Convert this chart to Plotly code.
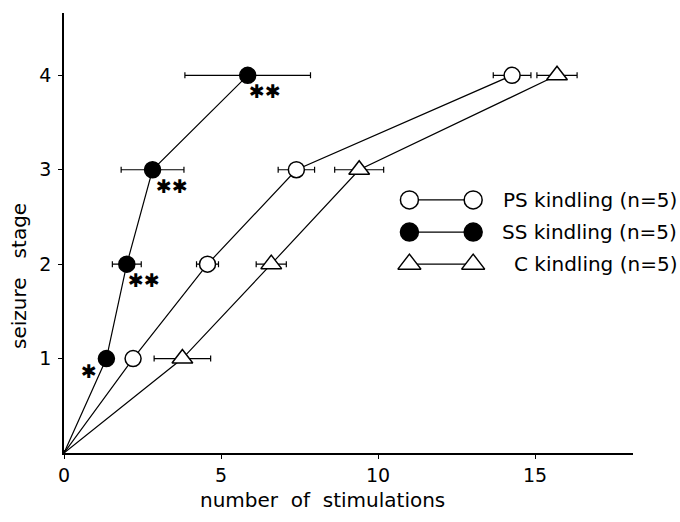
import plotly.graph_objects as go

# ---- data ----
stages = [1, 2, 3, 4]
ps_mean = [2.2, 4.57, 7.4, 14.27]
ps_err = [0.2, 0.35, 0.58, 0.6]
ss_mean = [1.35, 2.0, 2.82, 5.85]
ss_err = [0.2, 0.46, 1.0, 2.0]
c_mean = [3.77, 6.6, 9.4, 15.7]
c_err = [0.9, 0.48, 0.78, 0.64]
ss_signif = ["✱", "✱✱", "✱✱", "✱✱"]
legend_labels = ["PS kindling (n=5)", "SS kindling (n=5)", "C kindling (n=5)"]
x_ticks = [0, 5, 10, 15]
y_ticks = [1, 2, 3, 4]

FONT = "DejaVu Sans"
fig = go.Figure()

series = [
    (ps_mean, ps_err, "circle", "white", 16),
    (ss_mean, ss_err, "circle", "black", 16),
    (c_mean, c_err, "triangle-up", "white", 18),
]

for mean, err, sym, fill, size in series:
    fig.add_trace(go.Scatter(
        x=[0] + mean, y=[0] + stages,
        mode="lines+markers",
        line=dict(color="black", width=1.2),
        marker=dict(symbol=sym, color=fill, size=[0] + [size] * len(mean), opacity=1,
                    line=dict(color="black", width=1.5)),
        error_x=dict(type="data", array=[0] + err, color="black",
                     thickness=1.2, width=3),
        showlegend=False, cliponaxis=False,
    ))

# significance marks
offsets = [(-17, -12), (17, -16), (19, -16), (17, -16)]
for s, xv, yv, (dx, dy) in zip(ss_signif, ss_mean, stages, offsets):
    fig.add_annotation(x=xv, y=yv, text=s, showarrow=False, xshift=dx, yshift=dy,
                       font=dict(family=FONT, size=19, color="black"))

# manual legend (marker - line - marker)
leg_x = [11.0, 13.03]
leg_y = [2.68, 2.34, 2.0]
for (mean, err, sym, fill, size), ly, lab in zip(series, leg_y, legend_labels):
    fig.add_trace(go.Scatter(
        x=leg_x, y=[ly, ly], mode="lines+markers",
        line=dict(color="black", width=1.2),
        marker=dict(symbol=sym, color=fill, size=size + 2, opacity=1,
                    line=dict(color="black", width=1.5)),
        showlegend=False, cliponaxis=False,
    ))
    fig.add_annotation(x=(679 - 64) / 569, y=ly, xref="paper", yref="y", text=lab,
                       showarrow=False, xanchor="right",
                       font=dict(family=FONT, size=20, color="black"))

# axis titles
fig.add_annotation(x=(322 - 64) / 569, y=-(500 - 453) / 440, xref="paper", yref="paper",
                   text="number\u00a0\u00a0of\u00a0\u00a0stimulations", showarrow=False,
                   xanchor="center", yanchor="middle",
                   font=dict(family=FONT, size=20, color="black"))
fig.add_annotation(x=-(64 - 19) / 569, y=(453 - 276) / 440, xref="paper", yref="paper",
                   text="seizure\u00a0\u00a0\u00a0stage", showarrow=False, textangle=-90,
                   xanchor="center", yanchor="middle",
                   font=dict(family=FONT, size=20, color="black"))

fig.update_layout(
    width=680, height=522,
    margin=dict(l=64, r=47, t=13, b=69),
    paper_bgcolor="white", plot_bgcolor="white",
    font=dict(family=FONT, size=19, color="black"),
    xaxis=dict(range=[0, 18.12], tickvals=x_ticks, showgrid=False, zeroline=False,
               showline=True, linecolor="black", linewidth=1.5,
               ticks="outside", ticklen=4, tickcolor="black",
               tickfont=dict(family=FONT, size=19)),
    yaxis=dict(range=[0, 4.66], tickvals=y_ticks, showgrid=False, zeroline=False,
               showline=True, linecolor="black", linewidth=1.5,
               ticks="outside", ticklen=4, tickcolor="black", ticklabelstandoff=3,
               tickfont=dict(family=FONT, size=19)),
)

fig.write_html(
    "out.html",
    config={"displayModeBar": False},
    post_script="document.body.style.margin='0';document.body.style.overflow='hidden';",
)
